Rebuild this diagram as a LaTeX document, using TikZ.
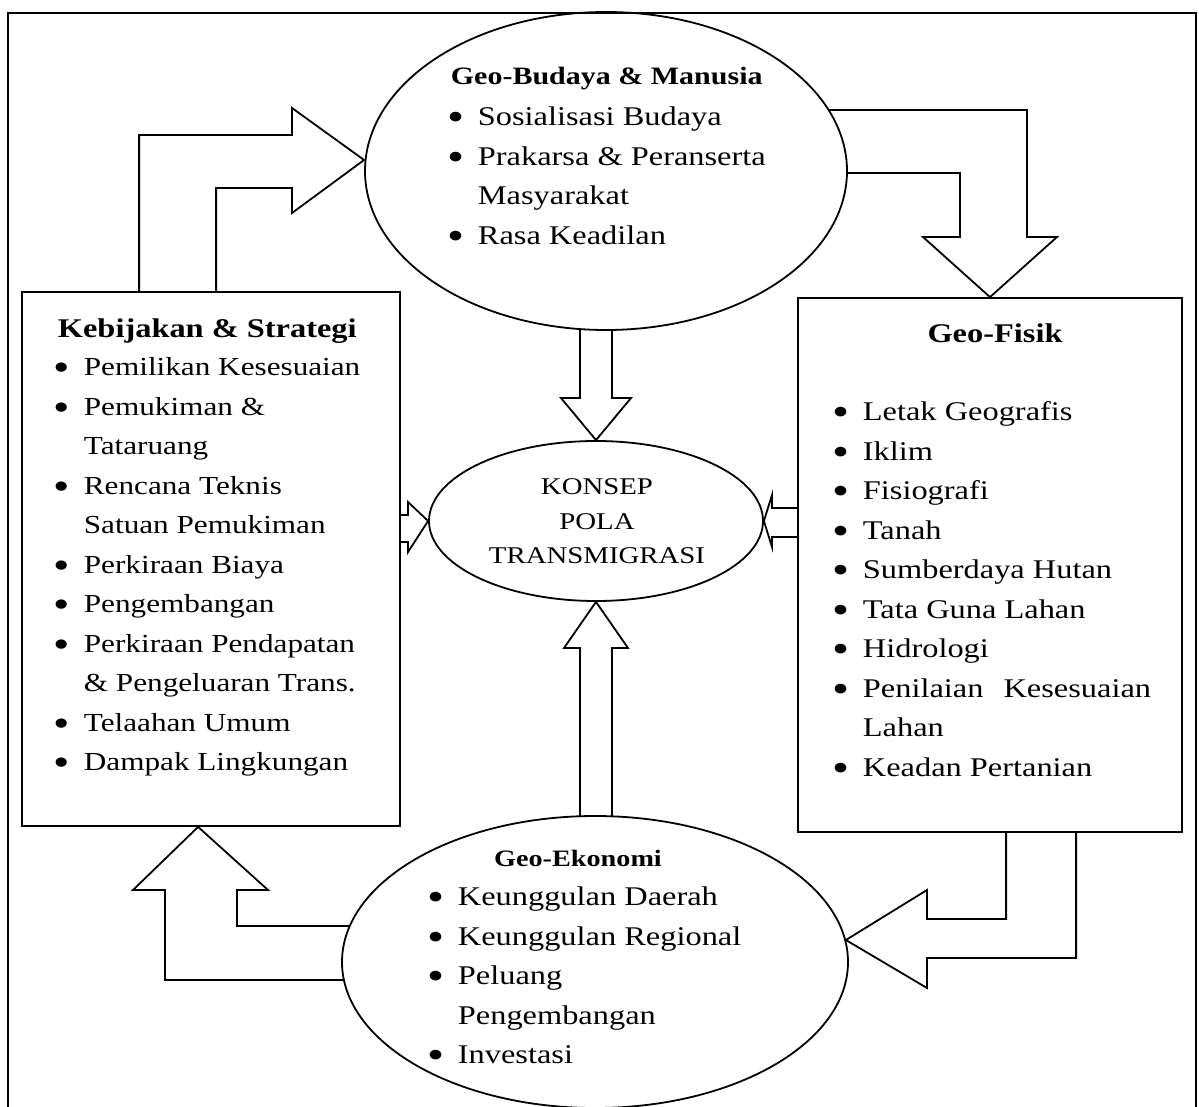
\documentclass[tikz,border=0pt]{standalone}
\usepackage{fontspec}
\setmainfont{Liberation Serif}[FakeStretch=1.2]
\usepackage{graphicx}
\usetikzlibrary{shapes.geometric,calc}

\newcommand{\bul}{\makebox[30pt][l]{\raisebox{-5pt}{\scalebox{1.5}{\textbullet}}}}
\newcommand{\ind}{\hspace*{30pt}}
\newcommand{\fst}{\rule{0pt}{20pt}}

\begin{document}
\begin{tikzpicture}[x=1pt,y=-1pt,line width=1.8pt,
 box/.style={draw,inner sep=0pt},
 oval/.style={draw,ellipse,inner sep=0pt},
 blk/.style={draw,line join=miter},
 ttl/.style={font=\bfseries\fontsize{27}{30}\selectfont,inner sep=0pt},
 lst/.style={font=\fontsize{27}{39.5}\selectfont,align=left,inner sep=0pt,anchor=north west}]
\useasboundingbox (0,0) rectangle (1199,1107);
\draw (8,1107) |- (1196,13) -- (1196,1107);

% boxes and ovals
\node[box,minimum width=378,minimum height=534] (kebijakan) at (211,559) {};
\node[box,minimum width=384,minimum height=534] (fisik) at (990,565) {};
\node[oval,minimum width=482,minimum height=318] (budaya) at (606,171) {};
\node[oval,minimum width=334,minimum height=160] (konsep) at (596,521) {};
\node[oval,minimum width=506,minimum height=292] (ekonomi) at (595,962) {};

% texts
\node[ttl,anchor=base west] (kebijakan-t) at (57,337) {Kebijakan \& Strategi};
\node[lst,font=\fontsize{26}{39.5}\selectfont] (kebijakan-l) at (53,355)
 {\fst\bul Pemilikan Kesesuaian\\\bul Pemukiman \&\\\ind Tataruang\\\bul Rencana Teknis\\\ind Satuan Pemukiman\\\bul Perkiraan Biaya\\\bul Pengembangan\\\bul Perkiraan Pendapatan\\\ind \& Pengeluaran Trans.\\\bul Telaahan Umum\\\bul Dampak Lingkungan};
\node[ttl,anchor=base] (fisik-t) at (995,342) {Geo-Fisik};
\node[lst] (fisik-l) at (832,400)
 {\fst\bul Letak Geografis\\\bul Iklim\\\bul Fisiografi\\\bul Tanah\\\bul Sumberdaya Hutan\\\bul Tata Guna Lahan\\\bul Hidrologi\\\bul Penilaian\hspace{12pt} Kesesuaian\\\ind Lahan\\\bul Keadan Pertanian};
\node[ttl,font=\bfseries\fontsize{25}{28}\selectfont,anchor=base west] (budaya-t) at (450,85) {Geo-Budaya \& Manusia};
\node[lst] (budaya-l) at (447,105)
 {\fst\bul Sosialisasi Budaya\\\bul Prakarsa \& Peranserta\\\ind Masyarakat\\\bul Rasa Keadilan};
\node[ttl,font=\bfseries\fontsize{23.5}{26}\selectfont,anchor=base] (ekonomi-t) at (578,866) {Geo-Ekonomi};
\node[lst] (ekonomi-l) at (427,885)
 {\fst\bul Keunggulan Daerah\\\bul Keunggulan Regional\\\bul Peluang\\\ind Pengembangan\\\bul Investasi};
\node[font=\fontsize{24}{34.5}\selectfont,align=center,inner sep=0pt,anchor=north] (konsep-t) at (597,474)
 {\fst KONSEP\\POLA\\TRANSMIGRASI};

% block arrows
\draw[blk] ($(kebijakan.north west)+(118,0)$) |- (292,135) -- (292,108) -- ($(budaya.west)+(0,-11)$) -- (292,213) -- (292,188) -| ($(kebijakan.north west)+(195,0)$);
\draw[blk] (829,110) -| (1027,237) -- (1057,237) -- (fisik.north) -- (923,237) -- (960,237) |- (847,173);
\draw[blk] (580,329) -- (580,398) -- (561,398) -- (konsep.north) -- (631,398) -- (612,398) -- (612,329);
\draw[blk] (580,817) -- (580,648) -- (564,648) -- (konsep.south) -- (628,648) -- (612,648) -- (612,817);
\draw[blk] ($(kebijakan.east)+(0,-44)$) -- (408,515) -- (408,502) -- (konsep.west) -- (408,552) -- (408,542) -- ($(kebijakan.east)+(0,-17)$);
\draw[blk] ($(fisik.west)+(0,-57)$) -- (772,508) -- (772,495) -- (konsep.east) -- (772,547) -- (772,537) -- ($(fisik.west)+(0,-28)$);
\draw[blk] (350,926) -- (237,926) -- (237,890) -- (268,890) -- ($(kebijakan.south west)+(177,0)$) -- (133,890) -- (165,890) -- (165,980) -- (344,980);
\draw[blk] ($(fisik.south west)+(209,0)$) |- (927,919) -- (927,890) -- ($(ekonomi.east)+(-3,-22)$) -- (927,988) -- (927,958) -| ($(fisik.south west)+(279,0)$);
\end{tikzpicture}
\end{document}
